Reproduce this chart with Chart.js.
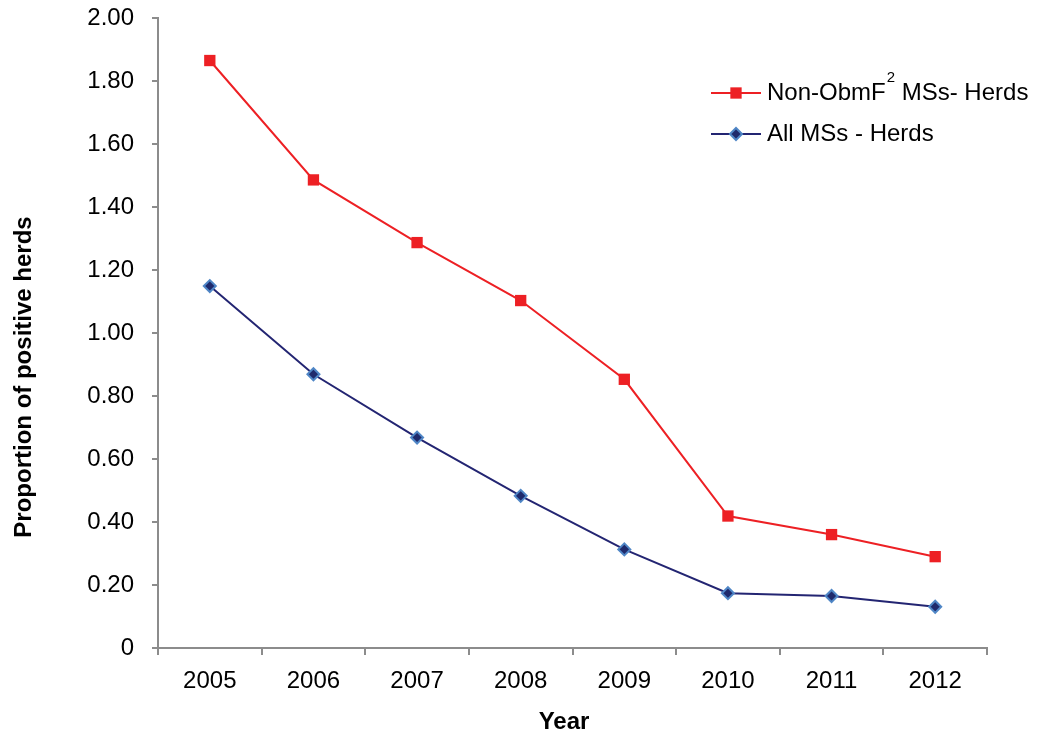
<!DOCTYPE html>
<html>
<head>
<meta charset="utf-8">
<script src="https://cdn.jsdelivr.net/npm/chart.js@4/dist/chart.umd.min.js"></script>
<style>
  html, body { margin: 0; padding: 0; background: #fff; }
  #wrap { width: 1037px; height: 734px; position: relative; }
</style>
</head>
<body>
<div id="wrap"><canvas id="herdsChart"></canvas></div>
<script>
// values
const YEARS = ['2005', '2006', '2007', '2008', '2009', '2010', '2011', '2012'];
const NON_OBMF = [1.865, 1.486, 1.287, 1.103, 0.853, 0.419, 0.360, 0.290];
const ALL_MSS = [1.149, 0.869, 0.668, 0.483, 0.313, 0.174, 0.165, 0.131];
const Y_MIN = 0, Y_MAX = 2, Y_STEP = 0.2;

const FONT = '"Liberation Sans", Arial, sans-serif';
const AXIS_GREY = '#8c8c8c';

// legend with line-through-marker samples and the superscript "2"
const legendPlugin = {
  id: 'sketchLegend',
  afterDraw(chart) {
    const ctx = chart.ctx;
    const rows = [
      { ds: chart.data.datasets[0], y: 93, parts: [['Non-ObmF', false], ['2', true], [' MSs- Herds', false]] },
      { ds: chart.data.datasets[1], y: 134, parts: [['All MSs - Herds', false]] }
    ];
    ctx.save();
    rows.forEach(r => {
      ctx.strokeStyle = r.ds.borderColor;
      ctx.lineWidth = r.ds.borderWidth;
      ctx.beginPath();
      ctx.moveTo(711, r.y);
      ctx.lineTo(761, r.y);
      ctx.stroke();
      ctx.fillStyle = r.ds.pointBackgroundColor;
      ctx.strokeStyle = r.ds.pointBorderColor;
      ctx.lineWidth = r.ds.pointBorderWidth;
      Chart.helpers.drawPoint(ctx, { pointStyle: r.ds.pointStyle, radius: r.ds.pointRadius, borderWidth: r.ds.pointBorderWidth, rotation: 0 }, 736, r.y);
      let x = 767;
      ctx.fillStyle = '#000';
      ctx.textBaseline = 'middle';
      ctx.textAlign = 'left';
      r.parts.forEach(([txt, sup]) => {
        ctx.font = (sup ? '15px ' : '24px ') + FONT;
        ctx.fillText(txt, sup ? x + 1 : x, sup ? r.y - 15 : r.y);
        x += ctx.measureText(txt).width + (sup ? 1 : 0);
      });
    });
    ctx.restore();
  }
};

// axis titles placed where the reference has them
const titlePlugin = {
  id: 'axisTitles',
  afterDraw(chart) {
    const ctx = chart.ctx;
    ctx.save();
    ctx.fillStyle = '#000';
    ctx.font = 'bold 24px ' + FONT;
    ctx.textAlign = 'center';
    ctx.textBaseline = 'middle';
    ctx.fillText('Year', 564, 722);
    ctx.translate(24, 377);
    ctx.rotate(-Math.PI / 2);
    ctx.fillText('Proportion of positive herds', 0, 0);
    ctx.restore();
  }
};

new Chart(document.getElementById('herdsChart'), {
  type: 'line',
  data: {
    labels: YEARS,
    datasets: [
      {
        label: 'Non-ObmF2 MSs- Herds',
        data: NON_OBMF,
        borderColor: '#ed2024',
        borderWidth: 2,
        pointStyle: 'rect',
        pointRadius: 8,
        pointBackgroundColor: '#ed2024',
        pointBorderColor: '#ed2024',
        pointBorderWidth: 0,
        tension: 0
      },
      {
        label: 'All MSs - Herds',
        data: ALL_MSS,
        borderColor: '#232572',
        borderWidth: 2,
        pointStyle: 'rectRot',
        pointRadius: 6,
        pointBackgroundColor: '#1f2a6c',
        pointBorderColor: '#4f86c6',
        pointBorderWidth: 2,
        tension: 0
      }
    ]
  },
  options: {
    responsive: true,
    maintainAspectRatio: false,
    animation: false,
    layout: { padding: { top: 18, right: 50, left: 0, bottom: 0 } },
    plugins: { legend: { display: false }, tooltip: { enabled: false } },
    scales: {
      x: {
        offset: true,
        grid: { offset: true, drawOnChartArea: false, drawTicks: true, tickLength: 7, color: AXIS_GREY, lineWidth: 2 },
        border: { display: true, color: AXIS_GREY, width: 2 },
        ticks: { color: '#000', font: { family: FONT, size: 24 }, padding: 12, maxRotation: 0 },
        afterFit: s => { s.height = 86; s.paddingLeft = 0; s.paddingRight = 0; }
      },
      y: {
        min: Y_MIN,
        max: Y_MAX,
        grid: { drawOnChartArea: false, drawTicks: true, tickLength: 6, color: AXIS_GREY, lineWidth: 2 },
        border: { display: true, color: AXIS_GREY, width: 2 },
        ticks: {
          stepSize: Y_STEP,
          color: '#000',
          font: { family: FONT, size: 24 },
          padding: 18,
          callback: v => (v === 0 ? '0' : v.toFixed(2))
        },
        afterFit: s => { s.width = 158; s.paddingTop = 0; s.paddingBottom = 0; }
      }
    }
  },
  plugins: [legendPlugin, titlePlugin]
});
</script>
</body>
</html>
